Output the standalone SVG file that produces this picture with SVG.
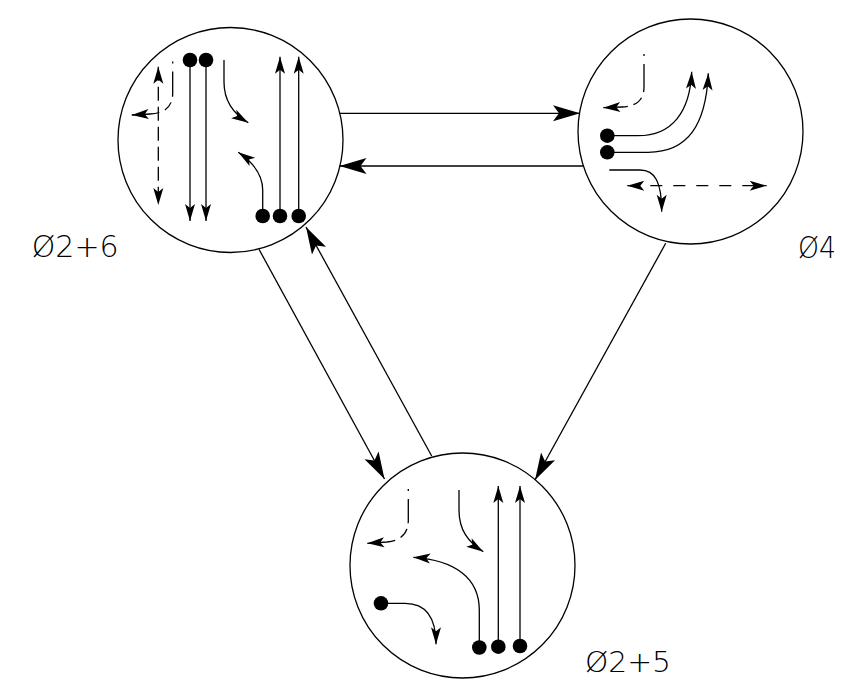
<svg xmlns="http://www.w3.org/2000/svg" width="843" height="680" viewBox="0 0 843 680">
<style>
.ring{fill:none;stroke:#000;stroke-width:1.3}
.ln{fill:none;stroke:#000;stroke-width:1.3}
.con{fill:none;stroke:#000;stroke-width:1.3;marker-end:url(#big)}
.arr{marker-end:url(#sm)}
.dbl{marker-start:url(#sm);marker-end:url(#sm)}
.dash{stroke-dasharray:14 6}
.dot{fill:#000}
.lbl{font-family:"DejaVu Sans","Liberation Sans",sans-serif;font-weight:200;font-size:31px;fill:#000}
</style>
<defs>
<marker id="big" markerUnits="userSpaceOnUse" refX="0" refY="0" markerWidth="1" markerHeight="1" orient="auto" overflow="visible">
<path d="M0,0 L-27,-8 L-21,0 L-27,8 Z" fill="#000"/>
</marker>
<marker id="sm" markerUnits="userSpaceOnUse" refX="0" refY="0" markerWidth="1" markerHeight="1" orient="auto-start-reverse" overflow="visible">
<path d="M0,0 L-17,-5 L-13,0 L-17,5 Z" fill="#000"/>
</marker>
</defs>
<rect width="843" height="680" fill="#fff"/>

<g id="connectors">
<path class="con" d="M340,113.3 L580,113.3"/>
<path class="con" d="M584,166 L339.5,166"/>
<path class="con" d="M259,249.3 L384.5,479"/>
<path class="con" d="M431.7,456 L306,227"/>
<path class="con" d="M665.7,243.3 L535,480"/>
</g>

<g id="node-02-6">
<circle class="ring" cx="230.5" cy="140" r="112.5"/>
<circle class="dot" cx="190" cy="60" r="7.3"/>
<circle class="dot" cx="206" cy="60" r="7.3"/>
<path class="ln arr" d="M190,60 L190,221"/>
<path class="ln arr" d="M206,60 L206,221"/>
<circle class="dot" cx="262.7" cy="216" r="7.3"/>
<circle class="dot" cx="280" cy="216" r="7.3"/>
<circle class="dot" cx="298.7" cy="216" r="7.3"/>
<path class="ln arr" d="M280,216 L280,56.7"/>
<path class="ln arr" d="M298.7,216 L298.7,56.7"/>
<path class="ln arr" d="M262.7,216 L262.7,190 C262.7,175 254,163 238.3,152.3"/>
<path class="ln arr" d="M224,60 L224,82 C224,100 232,113 248.3,122.7"/>
<path class="ln dash dbl" d="M158.3,66.7 L158.3,205"/>
<path class="ln arr" style="stroke-dasharray:2 8 25 6 10 6 40" d="M172.7,61.5 L172.7,93 Q172.7,113 150,114 L131.7,115"/>
<text class="lbl" x="31.7" y="256.5" textLength="87" lengthAdjust="spacingAndGlyphs">Ø2+6</text>
</g>

<g id="node-04">
<circle class="ring" cx="690.5" cy="131.5" r="112.5"/>
<circle class="dot" cx="607.3" cy="135.7" r="7.3"/>
<circle class="dot" cx="607.3" cy="152.3" r="7.3"/>
<path class="ln arr" d="M607.3,135.7 L638,135.7 C672,135.7 690,112 691.7,71.7"/>
<path class="ln arr" d="M607.3,152.3 L648,152.3 C688,152.3 706,125 708.3,73.3"/>
<path class="ln arr" d="M609.3,170 L640,170 C655,170 661.7,182 661.7,211.7"/>
<path class="ln dbl" style="stroke-dasharray:12 11" d="M627.3,185.7 L766.7,185.7"/>
<path class="ln arr" style="stroke-dasharray:2 8 28 6 11 6 40" d="M644,54 L644,87 Q644,106 622,107 L603.3,107.7"/>
<text class="lbl" x="798" y="258" style="font-size:30px" textLength="38" lengthAdjust="spacingAndGlyphs">Ø4</text>
</g>

<g id="node-02-5">
<circle class="ring" cx="462.5" cy="565.5" r="112.5"/>
<circle class="dot" cx="479.3" cy="647.5" r="7.3"/>
<circle class="dot" cx="498.3" cy="646.7" r="7.3"/>
<circle class="dot" cx="520" cy="646" r="7.3"/>
<path class="ln arr" d="M498.3,646.7 L498.3,486"/>
<path class="ln arr" d="M520,646 L520,486"/>
<path class="ln arr" d="M479.3,647.5 L479.3,610 C479.3,578 455,560 413.3,557.3"/>
<path class="ln arr" d="M459,490 L459,510 C459,530 468,542 483.3,551.7"/>
<path class="ln arr" style="stroke-dasharray:2 8 24 6 11 6 40" d="M408.3,489 L408.3,520 Q408.3,540 387,542 L367.3,543.3"/>
<circle class="dot" cx="381" cy="603.3" r="7.3"/>
<path class="ln arr" d="M381,603.3 L405,603.3 C425,603.3 436,616 436,644.3"/>
<text class="lbl" x="585" y="672" style="font-size:29px" textLength="86" lengthAdjust="spacingAndGlyphs">Ø2+5</text>
</g>
</svg>
